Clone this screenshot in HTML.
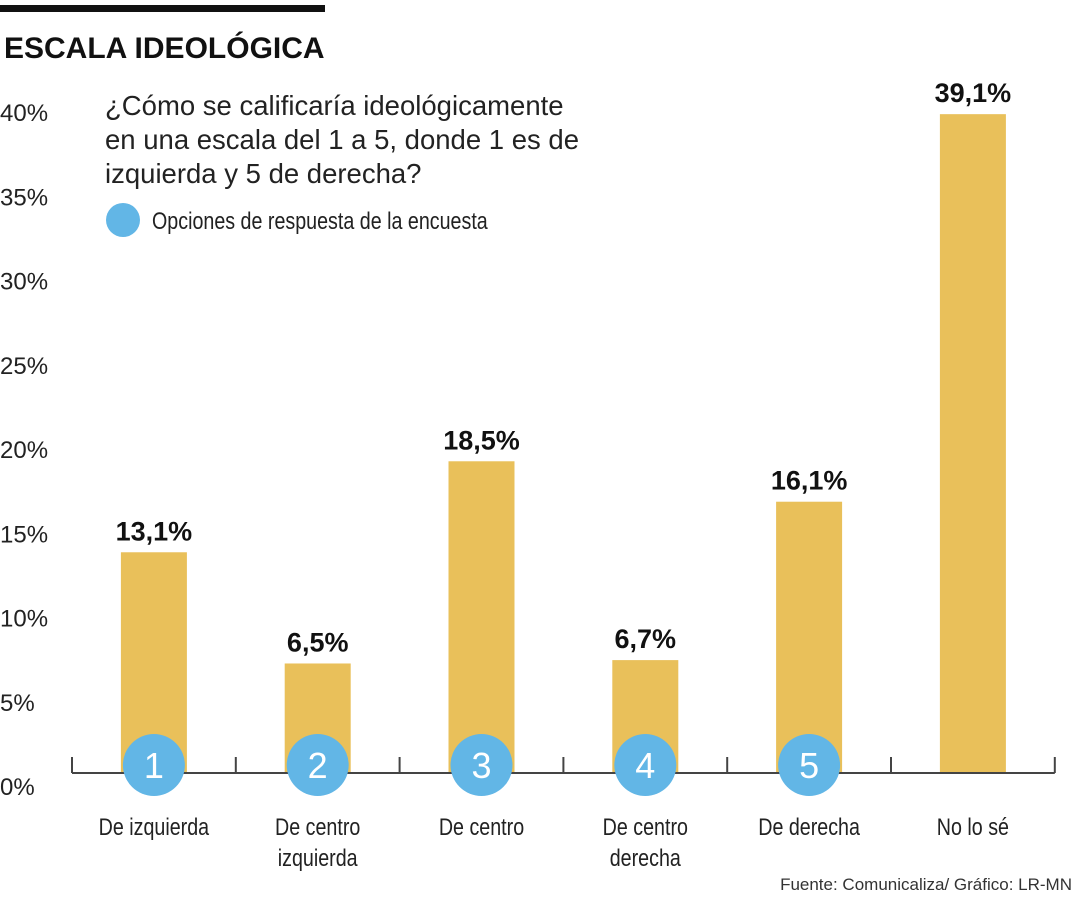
<!DOCTYPE html>
<html><head><meta charset="utf-8"><style>
body{margin:0;background:#fff;width:1080px;height:900px;overflow:hidden;font-family:"Liberation Sans",sans-serif}
</style></head><body>
<svg width="1080" height="900" font-family="Liberation Sans, sans-serif">
<rect x="0" y="5" width="325" height="7" fill="#111"/>
<text x="4" y="58" font-size="30" font-weight="bold" fill="#111">ESCALA IDEOLÓGICA</text>
<g font-size="27.5" fill="#222">
<text x="105" y="115">¿Cómo se calificaría ideológicamente</text>
<text x="105" y="149">en una escala del 1 a 5, donde 1 es de</text>
<text x="105" y="183">izquierda y 5 de derecha?</text>
</g>
<circle cx="123" cy="220" r="17" fill="#62B6E6"/>
<text x="152" y="229" font-size="24" fill="#222" transform="translate(152 0) scale(0.82 1) translate(-152 0)">Opciones de respuesta de la encuesta</text>
<g id="yt"></g><g id="bars"></g>
<text x="1072" y="890" font-size="17" fill="#333" text-anchor="end">Fuente: Comunicaliza/ Gráfico: LR-MN</text>
</svg>
<script>
const categories=[["De izquierda"],["De centro","izquierda"],["De centro"],["De centro","derecha"],["De derecha"],["No lo sé"]];
const values=[13.1,6.5,18.5,6.7,16.1,39.1];
const valueLabels=["13,1%","6,5%","18,5%","6,7%","16,1%","39,1%"];
const yTicks=[0,5,10,15,20,25,30,35,40];
const NS="http://www.w3.org/2000/svg";
const base=773,ppu=16.85,x0=72,step=163.8,bw=66;
const y=v=>base-v*ppu, xc=i=>x0+step*(i+0.5);
function mk(t,a,p){const e=document.createElementNS(NS,t);for(const k in a)e.setAttribute(k,a[k]);p.appendChild(e);return e;}
const yt=document.getElementById('yt'),bars=document.getElementById('bars');
yTicks.forEach(v=>{const t=mk('text',{x:0,y:y(v)+22,'font-size':24,fill:'#222'},yt);t.textContent=v+'%';

});
values.forEach((v,i)=>{
const r=mk('rect',{x:xc(i)-bw/2,y:y(v),width:bw,height:base-y(v),fill:'#E9C05A'},bars);


const l=mk('text',{x:xc(i),y:y(v)-12,'font-size':27,'font-weight':'bold','text-anchor':'middle',fill:'#111'},bars);l.textContent=valueLabels[i];


categories[i].forEach((s,j)=>{const c=mk('text',{x:xc(i),y:835+j*31,'font-size':24,'text-anchor':'middle',fill:'#222',transform:`translate(${xc(i)} 0) scale(0.82 1) translate(${-xc(i)} 0)`},bars);c.textContent=s;

});
});
const ax=mk('line',{x1:x0,x2:x0+step*6,y1:base,y2:base,stroke:'#444','stroke-width':2},bars);


for(let k=0;k<=6;k++){const t=mk('line',{x1:x0+step*k,x2:x0+step*k,y1:base-16,y2:base,stroke:'#444','stroke-width':2},bars);

}
for(let i=0;i<5;i++){const c=mk('circle',{cx:xc(i),cy:765,r:31,fill:'#62B6E6'},bars);


const n=mk('text',{x:xc(i),y:778,'font-size':36,'text-anchor':'middle',fill:'#fff'},bars);n.textContent=i+1;

}
</script>
</body></html>
